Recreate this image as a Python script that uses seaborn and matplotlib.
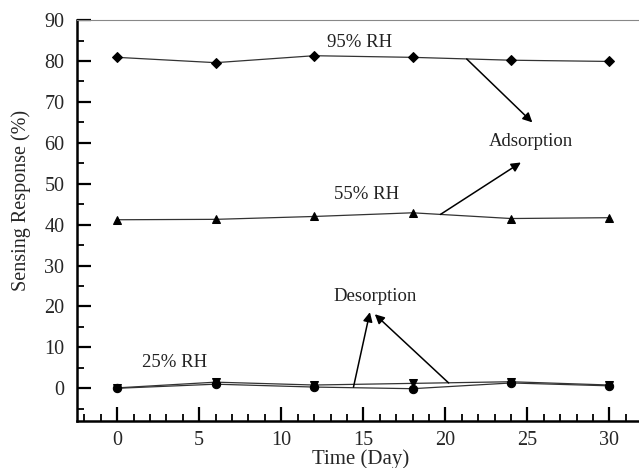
import matplotlib
matplotlib.use("Agg")
import matplotlib.pyplot as plt
import seaborn as sns
import pandas as pd
from matplotlib.ticker import MultipleLocator

days = [0, 6, 12, 18, 24, 30]
rh95 = [80.9, 79.6, 81.3, 80.9, 80.2, 79.9]
rh55 = [41.2, 41.3, 42.0, 42.9, 41.5, 41.7]
rh25_ads = [0.0, 1.0, 0.3, -0.1, 1.3, 0.6]
rh25_des = [0.1, 1.5, 0.8, 1.2, 1.6, 0.8]

sns.set_style("ticks")
plt.rcParams['font.family'] = ['Liberation Serif', 'DejaVu Serif']
plt.rcParams['mathtext.fontset'] = 'stix'

fig = plt.figure(figsize=(6.39, 4.68), dpi=100)
ax = fig.add_axes([0.1205, 0.1004, 0.8795, 0.8566])

series = [
    (rh95, "D", 5),
    (rh55, "^", 6),
    (rh25_des, "v", 6),
    (rh25_ads, "o", 6),
]
for vals, mk, ms in series:
    df = pd.DataFrame({"day": days, "resp": vals})
    sns.lineplot(data=df, x="day", y="resp", ax=ax, color="#333333", lw=0.9,
                 marker=mk, markersize=ms, markerfacecolor="black",
                 markeredgecolor="black", legend=False)

ax.set_xlim(-2.45, 31.8)
ax.set_ylim(-8, 90)
ax.xaxis.set_major_locator(MultipleLocator(5))
ax.xaxis.set_minor_locator(MultipleLocator(1))
ax.yaxis.set_major_locator(MultipleLocator(10))
ax.yaxis.set_minor_locator(MultipleLocator(5))
ax.set_yticks(range(0, 91, 10))
ax.tick_params(which="major", direction="in", length=10, width=1.6, labelsize=14.5, pad=9, color="black")
ax.tick_params(which="minor", direction="in", length=5, width=1.3, color="black")
ax.tick_params(axis="x", which="major", pad=7)

for s in ["left", "bottom"]:
    ax.spines[s].set_linewidth(1.8)
    ax.spines[s].set_color("black")
ax.spines["top"].set_linewidth(0.8)
ax.spines["top"].set_color("#888888")
ax.spines["right"].set_visible(False)

ax.set_xlabel("Time (Day)", fontsize=15)
ax.xaxis.set_label_coords(0.505, -0.07)
ax.set_ylabel("Sensing Response (%)", fontsize=14.5)
ax.yaxis.set_label_coords(-0.082, 0.55)

txt = dict(fontsize=13.5, ha="center", va="center", color="#222222")
ax.text(14.8, 84.6, "95% RH", **txt)
ax.text(15.2, 47.4, "55% RH", **txt)
ax.text(3.5, 6.4, "25% RH", **txt)
ax.text(25.2, 60.4, "Adsorption", **txt)
ax.text(15.7, 22.4, "Desorption", **txt)

arrow = dict(arrowstyle="-|>", color="black", lw=1.1, mutation_scale=14, shrinkA=0, shrinkB=0)
ax.annotate("", xy=(25.3, 65.0), xytext=(21.3, 80.5), arrowprops=arrow)
ax.annotate("", xy=(24.6, 55.2), xytext=(19.7, 42.5), arrowprops=arrow)
ax.annotate("", xy=(15.4, 18.6), xytext=(14.4, 0.3), arrowprops=arrow)
ax.annotate("", xy=(15.7, 18.1), xytext=(20.2, 1.3), arrowprops=arrow)

fig.savefig("out.png", dpi=100)
